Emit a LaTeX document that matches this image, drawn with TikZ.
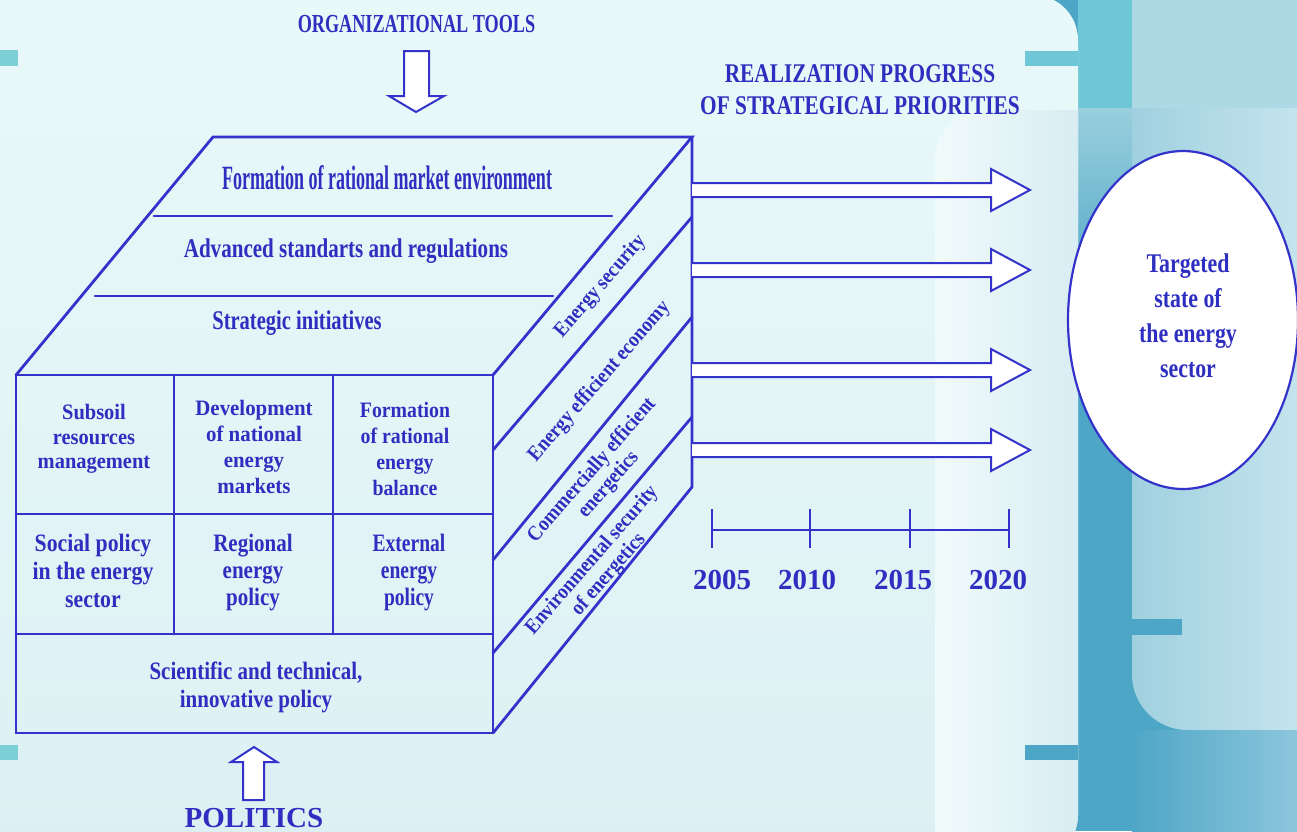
\documentclass[tikz,border=0pt]{standalone}
\usepackage{fontspec}
\setmainfont{Liberation Serif}
\usepackage{graphicx}
\usetikzlibrary{shapes.geometric}
\definecolor{ink}{RGB}{51,51,204}
\definecolor{txt}{RGB}{46,46,192}
\definecolor{paletop}{RGB}{233,249,250}
\definecolor{palebot}{RGB}{220,240,243}
\definecolor{innerl}{RGB}{241,250,251}
\definecolor{innerr}{RGB}{216,237,242}
\definecolor{tealdark}{RGB}{78,166,198}
\definecolor{tealtop}{RGB}{110,199,215}
\definecolor{skytop}{RGB}{172,217,227}
\definecolor{panell}{RGB}{160,208,223}
\definecolor{panelr}{RGB}{196,228,237}
\definecolor{barcyan}{RGB}{125,207,214}
\newcommand{\sq}[4]{\scalebox{#1}[1]{\fontsize{#2}{#3}\selectfont\bfseries\begin{tabular}{@{}c@{}}#4\end{tabular}}}
\tikzset{
  cube/.style={draw=ink, line width=2.8pt, line cap=round},
  lbl/.style={text=txt, inner sep=0pt, outer sep=0pt},
  barrow/.style={draw=ink, fill=white, line width=2pt, line join=miter},
  tick/.style={draw=ink, line width=2.6pt}
}
\begin{document}
\begin{tikzpicture}[x=1pt,y=-1pt]
\useasboundingbox (0,0) rectangle (1297,831);
% ---------- background ----------
\fill[tealdark] (0,0) rectangle (1297,831);
\fill[skytop] (1078,0) rectangle (1297,108);
\fill[tealtop] (1078,0) rectangle (1132,108);
\shade[top color=skytop!80!tealdark, bottom color=tealdark] (1078,108) rectangle (1132,300);
\shade[left color=panell, right color=panelr]
  (1132,108) -- (1297,108) -- (1297,730) -- (1187,730)
  .. controls (1157,730) and (1132,705) .. (1132,675) -- cycle;
\shade[left color=tealdark, right color={rgb,255:red,140;green,198;blue,220}] (1132,730) rectangle (1297,831);
\shade[top color=paletop, bottom color=palebot, rounded corners=45pt] (-50,-5) rectangle (1078,860);
\begin{scope}
  \clip[rounded corners=45pt] (-50,-5) rectangle (1078,860);
  \shade[left color=innerl, right color=innerr]
    (935,860) -- (935,160) .. controls (935,132) and (957,110) .. (985,110)
    -- (1078,110) -- (1078,860) -- cycle;
\end{scope}
\fill[barcyan] (0,50) rectangle (18,66);
\fill[barcyan] (0,745) rectangle (18,760);
\fill[tealtop] (1025,51) rectangle (1078,66);
\fill[tealdark] (1025,745) rectangle (1078,760);
\fill[tealdark] (1130,619) rectangle (1182,635);
% ---------- cube ----------
\coordinate (ftl) at (16,375);
\coordinate (ftr) at (493,375);
\coordinate (fbl) at (16,733);
\coordinate (fbr) at (493,733);
\coordinate (btl) at (213,137);
\coordinate (btr) at (692,137);
\coordinate (bbr) at (692,487);
\draw[cube] (ftl) rectangle (fbr);
\draw[cube] (ftl) -- (btl) -- (btr) -- (ftr);
\draw[cube] (btr) -- (bbr) -- (fbr);
% front grid
\draw[cube] (16,514) -- (493,514);
\draw[cube] (16,634) -- (493,634);
\draw[cube] (174,375) -- (174,634);
\draw[cube] (333,375) -- (333,634);
% top face dividers
\draw[cube] (154,216) -- (612,216);
\draw[cube] (95,296) -- (553,296);
% side face dividers
\draw[cube] (493,450) -- (692,217);
\draw[cube] (493,560) -- (692,317);
\draw[cube] (493,653) -- (692,417);
% ---------- top face texts ----------
\node[lbl] (t1) at (387,181) {\sq{.53}{34}{40}{Formation of rational market environment}};
\node[lbl] (t2) at (346,251.5) {\sq{.78}{27}{32}{Advanced standarts and regulations}};
\node[lbl] (t3) at (297,323.5) {\sq{.76}{27}{32}{Strategic initiatives}};
% ---------- front cells ----------
\node[lbl] (c11) at (94,439.5) {\sq{.93}{22}{24.5}{Subsoil\\resources\\management}};
\node[lbl] (c12) at (254,449) {\sq{.95}{22}{26}{Development\\of national\\energy\\markets}};
\node[lbl] (c13) at (405,451) {\sq{.9}{22}{26}{Formation\\of rational\\energy\\balance}};
\node[lbl] (c21) at (93,574) {\sq{.87}{25}{28}{Social policy\\in the energy\\sector}};
\node[lbl] (c22) at (253,573.5) {\sq{.84}{25}{27}{Regional\\energy\\policy}};
\node[lbl] (c23) at (409,573.5) {\sq{.78}{25}{27}{External\\energy\\policy}};
\node[lbl] (c3) at (256,688) {\sq{.84}{25}{28}{Scientific and technical,\\innovative policy}};
% ---------- side face texts ----------
\node[lbl, rotate=49] (s1) at (601,287) {\sq{.9}{21}{22}{Energy security}};
\node[lbl, rotate=49] (s2) at (600,382) {\sq{.9}{21}{22}{Energy efficient economy}};
\node[lbl, rotate=49] (s3) at (601,478) {\sq{.9}{21}{22}{Commercially efficient\\energetics}};
\node[lbl, rotate=49] (s4) at (601,568) {\sq{.9}{21}{22}{Environmental security\\of energetics}};
% ---------- headings ----------
\node[lbl] (org) at (416.5,26) {\sq{.7}{26}{31}{ORGANIZATIONAL TOOLS}};
\node[lbl] (real) at (860,92.5) {\sq{.79}{27}{32}{REALIZATION PROGRESS\\OF STRATEGICAL PRIORITIES}};
\node[lbl] (pol) at (254,820) {\sq{1}{29}{35}{POLITICS}};
% ---------- block arrows ----------
\draw[barrow] (404,51) -- (429,51) -- (429,96) -- (444,96) -- (416,112) -- (389,96) -- (404,96) -- cycle;
\draw[barrow] (243,800) -- (264,800) -- (264,762) -- (277,762) -- (254,747) -- (231,762) -- (243,762) -- cycle;
\foreach \yy in {190,270,370,450}{
  \filldraw[barrow] (692,\yy-7) -- (991,\yy-7) -- (991,\yy-21) -- (1030,\yy)
     -- (991,\yy+21) -- (991,\yy+7) -- (692,\yy+7);
}
% ---------- target ellipse ----------
\node[ellipse, draw=ink, line width=2.2pt, fill=white, minimum width=230pt, minimum height=338pt, inner sep=0pt] (target) at (1183,320) {};
\node[lbl] (targettxt) at (1188,317.5) {\sq{.81}{27}{35}{Targeted\\state of\\the energy\\sector}};
% ---------- timeline ----------
\draw[tick] (712,530) -- (1009,530);
\foreach \xx in {712,810,910,1009}{ \draw[tick] (\xx,509) -- (\xx,548); }
\node[lbl] (y1) at (722,582) {\sq{1}{29}{35}{2005}};
\node[lbl] (y2) at (807,582) {\sq{1}{29}{35}{2010}};
\node[lbl] (y3) at (903,582) {\sq{1}{29}{35}{2015}};
\node[lbl] (y4) at (998,582) {\sq{1}{29}{35}{2020}};
\end{tikzpicture}
\end{document}
